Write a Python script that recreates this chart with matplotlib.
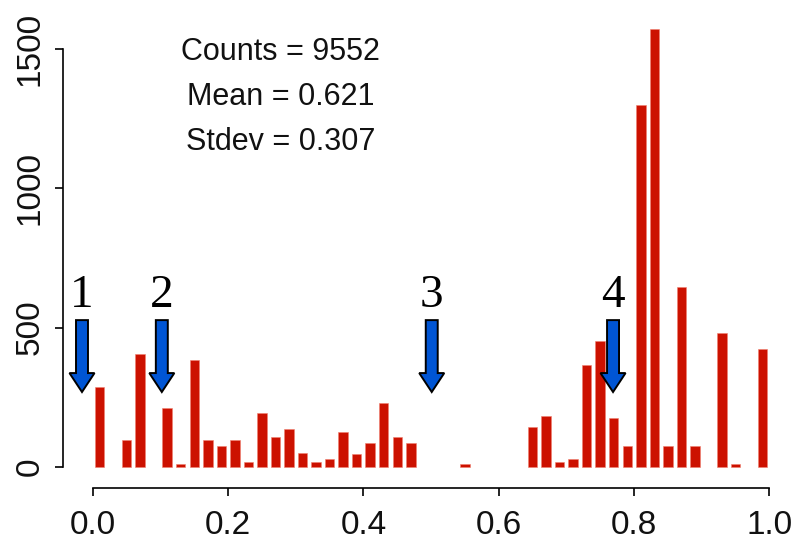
import matplotlib.pyplot as plt
from matplotlib.patches import FancyArrow

# histogram of scores (bin width 0.02), empty bins left out
bin_centers = [0.01, 0.05, 0.07, 0.11, 0.13, 0.15, 0.17, 0.19, 0.21, 0.23,
               0.25, 0.27, 0.29, 0.31, 0.33, 0.35, 0.37, 0.39, 0.41, 0.43,
               0.45, 0.47, 0.55, 0.65, 0.67, 0.69, 0.71, 0.73, 0.75, 0.77,
               0.79, 0.81, 0.83, 0.85, 0.87, 0.89, 0.93, 0.95, 0.99]
counts = [288, 97, 404, 212, 10, 384, 96, 76, 96, 18,
          193, 107, 135, 49, 19, 29, 126, 48, 86, 231,
          107, 86, 10, 145, 183, 19, 29, 366, 452, 175,
          76, 1299, 1570, 76, 645, 76, 482, 10, 423]

stat_lines = ['Counts = 9552', 'Mean = 0.621', 'Stdev = 0.307']

# marked positions on the score axis
arrow_x = [-0.016, 0.102, 0.501, 0.769]
arrow_labels = ['1', '2', '3', '4']

x_ticks = [0.0, 0.2, 0.4, 0.6, 0.8, 1.0]
y_ticks = [0, 500, 1000, 1500]

tick_font = ['Liberation Sans Narrow', 'Liberation Sans', 'DejaVu Sans']

fig = plt.figure(figsize=(7.94, 5.53), dpi=100)
ax = fig.add_axes([0, 0, 1, 1])
ax.patch.set_alpha(0)

ax.bar(bin_centers, counts, width=0.014, color='#CC1100',
       edgecolor='#F08070', linewidth=0.4)

ax.set_xlim(-0.1372, 1.0365)
ax.set_ylim(-308.6, 1675.6)

# R style axes: detached lines spanning only the tick range
for side in ['top', 'right']:
    ax.spines[side].set_visible(False)
ax.spines['left'].set_position(('data', -0.0436))
ax.spines['bottom'].set_position(('data', -75))
ax.spines['left'].set_bounds(0, 1500)
ax.spines['bottom'].set_bounds(0, 1)
for side in ['left', 'bottom']:
    ax.spines[side].set_linewidth(1.2)

ax.set_xticks(x_ticks)
ax.set_xticklabels(['%.1f' % v for v in x_ticks])
ax.set_yticks(y_ticks)
ax.set_yticklabels([str(v) for v in y_ticks], rotation=90, va='center')
ax.tick_params(axis='both', length=6, width=1.2, labelsize=24)
ax.tick_params(axis='x', pad=10)
ax.tick_params(axis='y', pad=7)
for lab in ax.get_xticklabels() + ax.get_yticklabels():
    lab.set_family(tick_font)
    lab.set_color('#111111')

for i, line in enumerate(stat_lines):
    ax.text(0.278, 1490 - i * 162, line, ha='center', va='center',
            fontsize=22, family=tick_font, color='#111111')

for x, lab in zip(arrow_x, arrow_labels):
    arr = FancyArrow(x, 527, 0, -258, width=0.0177, head_width=0.037,
                     head_length=68, length_includes_head=True,
                     facecolor='#0055D4', edgecolor='black', linewidth=1.4)
    ax.add_patch(arr)
    ax.text(x, 614, lab, ha='center', va='center', fontsize=34,
            family=['Liberation Serif', 'DejaVu Serif'], color='black')

fig.savefig('out.png', dpi=100)
